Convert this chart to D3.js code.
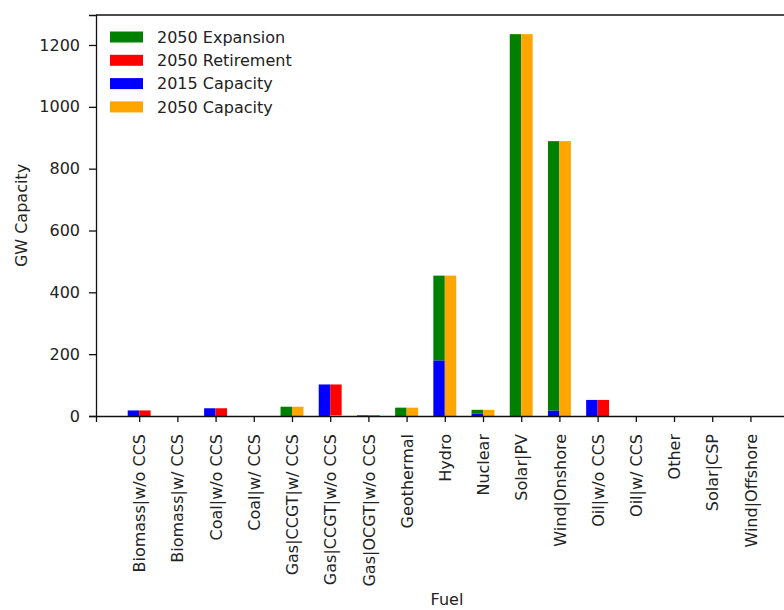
<!DOCTYPE html>
<html>
<head>
<meta charset="utf-8">
<script src="https://cdn.jsdelivr.net/npm/d3@7"></script>
<style>
  body { margin: 0; background: #fff; }
  svg, svg text { font-family: 'DejaVu Sans', sans-serif; }
  .tick text { font-size: 16px; fill: #222; }
</style>
</head>
<body>
<div id="chart"></div>
<script>
var fuels = ['Biomass|w/o CCS', 'Biomass|w/ CCS', 'Coal|w/o CCS', 'Coal|w/ CCS',
	'Gas|CCGT|w/ CCS', 'Gas|CCGT|w/o CCS', 'Gas|OCGT|w/o CCS', 'Geothermal',
	'Hydro', 'Nuclear', 'Solar|PV', 'Wind|Onshore', 'Oil|w/o CCS', 'Oil|w/ CCS',
	'Other', 'Solar|CSP', 'Wind|Offshore'];

var cap_2015       = [18, 0, 25, 0, 0, 102, 2, 0, 180, 7, 0, 18, 52, 0, 0, 0, 0];
var expansion_2050 = [0, 0, 0, 0, 30, 0, 0, 27, 274, 13, 1235, 871, 0, 0, 0, 0, 0];
var retire_2050    = [18, 0, 25, 0, 0, 99, 2, 0, 0, 0, 0, 0, 52, 0, 0, 0, 0];
var cap_2050       = [0, 0, 0, 0, 30, 3, 0, 27, 454, 20, 1235, 889, 0, 0, 0, 0, 0];

var y_ticks = [0, 200, 400, 600, 800, 1000, 1200];

var legend_items = [
	{ name: '2050 Expansion', color: 'green' },
	{ name: '2050 Retirement', color: 'red' },
	{ name: '2015 Capacity', color: 'blue' },
	{ name: '2050 Capacity', color: 'orange' }
];

var chart_width = 784;
var chart_height = 610;
var left = 96, top_y = 15, bottom = 416, right = 793.6;
var bar_w = 0.3;

var svg = d3.select('#chart')
	.append('svg')
	.attr('width', chart_width)
	.attr('height', chart_height);

// scales
var x_scale = d3.scaleLinear()
	.domain([-1.13, fuels.length - 1 + 1.13])
	.range([left, right]);

var y_scale = d3.scaleLinear()
	.domain([0, 1297])
	.range([bottom, top_y]);

// bars: left = 2015 + expansion, right = 2050 capacity + retirement
var rects = [];
fuels.forEach(function(f, i){
	rects.push({ x0: i - bar_w, v0: 0, v1: cap_2015[i], color: 'blue' });
	rects.push({ x0: i - bar_w, v0: cap_2015[i], v1: cap_2015[i] + expansion_2050[i], color: 'green' });
	rects.push({ x0: i, v0: 0, v1: cap_2050[i], color: 'orange' });
	rects.push({ x0: i, v0: cap_2050[i], v1: cap_2050[i] + retire_2050[i], color: 'red' });
});

svg.append('g')
	.selectAll('rect')
	.data(rects.filter(function(d){ return d.v1 > d.v0; }))
	.enter()
	.append('rect')
	.attr('x', function(d){ return x_scale(d.x0); })
	.attr('width', function(d){ return x_scale(d.x0 + bar_w) - x_scale(d.x0); })
	.attr('y', function(d){ return y_scale(d.v1); })
	.attr('height', function(d){ return y_scale(d.v0) - y_scale(d.v1); })
	.attr('fill', function(d){ return d.color; });

// axes
var x_axis = d3.axisBottom(x_scale)
	.tickValues(d3.range(fuels.length))
	.tickFormat(function(d){ return fuels[d]; })
	.tickSizeOuter(0)
	.tickSize(6);

var xg = svg.append('g')
	.attr('transform', 'translate(0,' + bottom + ')')
	.call(x_axis);

xg.selectAll('.tick text')
	.attr('transform', 'rotate(-90)')
	.attr('x', -18)
	.attr('y', 0)
	.attr('dy', '0.35em')
	.style('text-anchor', 'end');

var y_axis = d3.axisLeft(y_scale)
	.tickValues(y_ticks)
	.tickFormat(d3.format('d'))
	.tickSizeOuter(0)
	.tickSize(7)
	.tickPadding(9);

var yg = svg.append('g')
	.attr('transform', 'translate(' + left + ',0)')
	.call(y_axis);

xg.attr('font-family', null);
yg.attr('font-family', null);

svg.selectAll('.domain').attr('stroke', '#111').attr('stroke-width', 1.3);
svg.selectAll('.tick line').attr('stroke', '#111').attr('stroke-width', 1.3);

// top spine
svg.append('line')
	.attr('x1', left).attr('x2', chart_width)
	.attr('y1', top_y).attr('y2', top_y)
	.attr('stroke', '#111').attr('stroke-width', 1.3);

// axis titles
svg.append('text')
	.attr('x', 447)
	.attr('y', 605)
	.attr('text-anchor', 'middle')
	.style('font-size', '16px')
	.attr('fill', '#222')
	.text('Fuel');

svg.append('text')
	.attr('transform', 'translate(27,' + ((top_y + bottom) / 2) + ') rotate(-90)')
	.attr('text-anchor', 'middle')
	.style('font-size', '16px')
	.attr('fill', '#222')
	.text('GW Capacity');

// legend
var lg = svg.append('g')
	.selectAll('g')
	.data(legend_items)
	.enter()
	.append('g')
	.attr('transform', function(d, i){ return 'translate(110,' + (31.5 + i * 23.3) + ')'; });

lg.append('rect')
	.attr('width', 33)
	.attr('height', 11)
	.attr('fill', function(d){ return d.color; });

lg.append('text')
	.attr('x', 47)
	.attr('y', 5.5)
	.attr('dy', '0.35em')
	.style('font-size', '16px')
	.attr('fill', '#222')
	.text(function(d){ return d.name; });
</script>
</body>
</html>
